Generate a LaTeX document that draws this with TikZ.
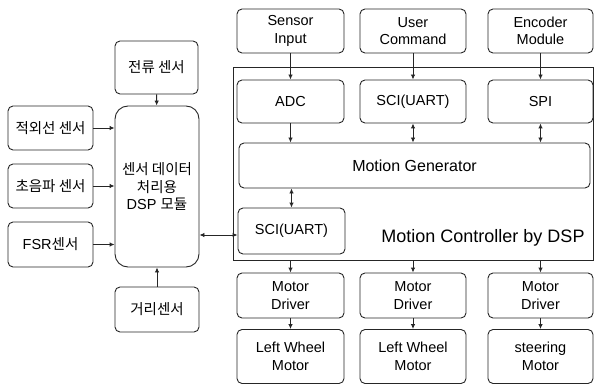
\documentclass[tikz,border=0pt]{standalone}
\usepackage{fontspec}
\setmainfont{Liberation Sans}
\newfontfamily\kr{Noto Sans CJK KR}
\usetikzlibrary{arrows.meta,calc}

\tikzset{
  blk/.style={draw=black!85, line width=0.9pt, rounded corners=5pt, align=center,
    inner sep=0pt, font=\fontsize{14.5}{17.5}\selectfont},
  lnk/.style={line width=0.9pt, draw=black!85, -{Latex[length=5pt,width=4.5pt]}},
  dlnk/.style={line width=0.9pt, draw=black!85, {Latex[length=5pt,width=4.5pt]}-{Latex[length=5pt,width=4.5pt]}},
}

\begin{document}
\begin{tikzpicture}[x=1pt,y=-1pt]
\useasboundingbox (0,0) rectangle (594,385);

% sensor board on the left
\node[blk, minimum width=83pt, minimum height=53pt] (cur) at (156.5,67.5) {\kr 전류 센서};
\node[blk, minimum width=85pt, minimum height=44pt] (ir)  at (50.5,128)  {\kr 적외선 센서};
\node[blk, minimum width=85pt, minimum height=44pt] (us)  at (50.5,186)  {\kr 초음파 센서};
\node[blk, minimum width=85pt, minimum height=45pt] (fsr) at (50.5,244.5) {FSR{\kr 센서}};
\node[blk, rounded corners=13pt, minimum width=84pt, minimum height=161pt] (dsp) at (157,186.5)
  {\kr 센서 데이터\\\kr 처리용\\DSP {\kr 모듈}};
\node[blk, minimum width=84pt, minimum height=45pt] (dist) at (157,309.5) {\kr 거리센서};

\draw[lnk] (cur) -- (dsp);
\draw[lnk] (ir) -- (ir -| dsp.west);
\draw[lnk] (us) -- (us -| dsp.west);
\draw[lnk] (fsr) -- (fsr -| dsp.west);
\draw[lnk] (dist) -- (dsp);

% motion controller frame
\node[draw=black!85, line width=0.9pt, minimum width=360.5pt, minimum height=193pt, inner sep=0pt]
  (ctrl) at (413.25,163.5) {};
\node[font=\fontsize{18}{20}\selectfont] (title) at (483,238) {Motion Controller by DSP};

% external inputs
\node[blk, minimum width=107pt, minimum height=44pt] (sin) at (290.5,31) {Sensor\\Input};
\node[blk, minimum width=106pt, minimum height=44pt] (cmd) at (413,31) {User\\Command};
\node[blk, minimum width=105pt, minimum height=44pt] (enc) at (540.5,31) {Encoder\\Module};

% peripherals inside the controller
\node[blk, minimum width=107pt, minimum height=43pt] (adc) at (290.5,101.5) {ADC};
\node[blk, minimum width=106pt, minimum height=43pt] (sci) at (413,101.5) {SCI(UART)};
\node[blk, minimum width=105pt, minimum height=43pt] (spi) at (540.5,101.5) {SPI};
\node[blk, minimum width=351pt, minimum height=45pt, font=\fontsize{16}{18}\selectfont] (mg) at (414.5,165.5) {Motion Generator};
\node[blk, minimum width=107pt, minimum height=46pt] (sci2) at (291.5,231) {SCI(UART)};

\draw[lnk] (sin) -- (adc);
\draw[lnk] (cmd) -- (sci);
\draw[lnk] (enc) -- (spi);
\draw[lnk] (adc) -- (adc |- mg.north);
\draw[dlnk] (sci) -- (sci |- mg.north);
\draw[dlnk] (spi) -- (spi |- mg.north);
\draw[dlnk] (mg.south -| sci2) -- (sci2);
\draw[dlnk] (dsp.east |- 0,235) -- (sci2.west |- 0,235);

% drive stage
\node[blk, minimum width=107pt, minimum height=45pt] (md1) at (290.5,295.5) {Motor\\Driver};
\node[blk, minimum width=106pt, minimum height=45pt] (md2) at (413,295.5) {Motor\\Driver};
\node[blk, minimum width=105pt, minimum height=45pt] (md3) at (540.5,295.5) {Motor\\Driver};
\node[blk, minimum width=107pt, minimum height=54pt] (m1) at (290.5,356.5) {Left Wheel\\Motor};
\node[blk, minimum width=106pt, minimum height=54pt] (m2) at (413,356.5) {Left Wheel\\Motor};
\node[blk, minimum width=105pt, minimum height=54pt] (m3) at (540.5,356.5) {steering\\Motor};

\draw[lnk] (md1.north |- ctrl.south) -- (md1);
\draw[lnk] (md2.north |- ctrl.south) -- (md2);
\draw[lnk] (md3.north |- ctrl.south) -- (md3);
\draw[lnk] (md1) -- (m1);
\draw[lnk] (md2) -- (m2);
\draw[lnk] (md3) -- (m3);
\end{tikzpicture}
\end{document}
